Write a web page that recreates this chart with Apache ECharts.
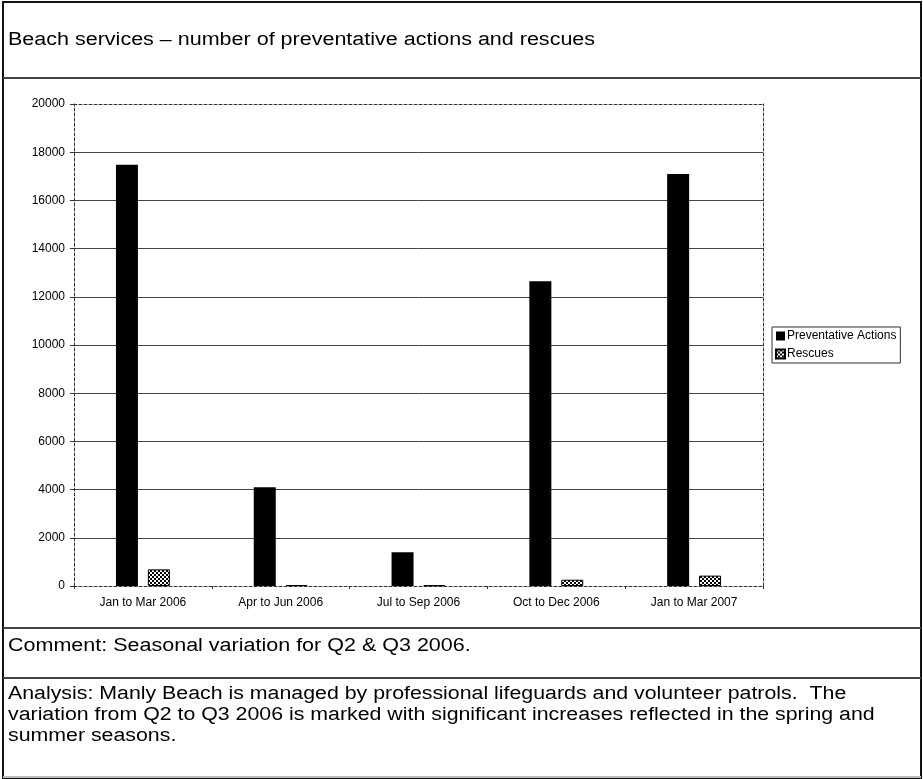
<!DOCTYPE html>
<html>
<head>
<meta charset="utf-8">
<title>Beach services</title>
<script src="https://cdn.jsdelivr.net/npm/echarts@6/dist/echarts.min.js"></script>
<style>
  html, body { margin: 0; padding: 0; background: #ffffff; }
  #chart { width: 923px; height: 779px; }
</style>
</head>
<body>
<div id="chart"></div>
<script>
// Quarterly beach service figures
const categories = ['Jan to Mar 2006', 'Apr to Jun 2006', 'Jul to Sep 2006', 'Oct to Dec 2006', 'Jan to Mar 2007'];
const preventativeActions = [17480, 4100, 1400, 12650, 17100];
const rescues = [690, 40, 30, 260, 430];
const seriesNames = ['Preventative Actions', 'Rescues'];

const titleText = 'Beach services \u2013 number of preventative actions and rescues';
const commentText = 'Comment: Seasonal variation for Q2 & Q3 2006.';
const analysisLines = [
  'Analysis: Manly Beach is managed by professional lifeguards and volunteer patrols.  The',
  'variation from Q2 to Q3 2006 is marked with significant increases reflected in the spring and',
  'summer seasons.'
];

const FONT = '"Liberation Sans", Arial, Helvetica, sans-serif';

// Dotted fill used for the rescues bars
function dotPattern() {
  const c = document.createElement('canvas');
  c.width = 4; c.height = 4;
  const g = c.getContext('2d');
  g.fillStyle = '#ffffff';
  g.fillRect(0, 0, 4, 4);
  g.fillStyle = '#000000';
  g.fillRect(0, 0, 2, 2);
  g.fillRect(2, 2, 2, 2);
  return c;
}
const rescuesFill = { image: dotPattern(), repeat: 'repeat' };

const chart = echarts.init(document.getElementById('chart'), null, { renderer: 'canvas' });

const dashed = { color: '#333', width: 1, type: [3, 2] };

// Text rows of the report table: slightly wide lettering
function textRow(str, y, widen) {
  return {
    type: 'text', silent: true,
    x: 8, y: y, scaleX: widen, scaleY: 1,
    style: { x: 0, y: 0, text: str, font: '18px ' + FONT, fill: '#000', verticalAlign: 'middle', align: 'left' }
  };
}

const graphics = [
  // outer frame and row separators
  { type: 'rect', silent: true, shape: { x: 3, y: 2, width: 918, height: 776 }, style: { fill: 'none', stroke: '#111', lineWidth: 2 } },
  { type: 'line', silent: true, shape: { x1: 3, y1: 777, x2: 921, y2: 777 }, style: { stroke: '#bbb', lineWidth: 2 } },
  { type: 'line', silent: true, shape: { x1: 3, y1: 78, x2: 921, y2: 78 }, style: { stroke: '#444', lineWidth: 2 } },
  { type: 'line', silent: true, shape: { x1: 3, y1: 628, x2: 921, y2: 628 }, style: { stroke: '#444', lineWidth: 2 } },
  { type: 'line', silent: true, shape: { x1: 3, y1: 678, x2: 921, y2: 678 }, style: { stroke: '#444', lineWidth: 2 } },
  textRow(titleText, 40, 1.195),
  textRow(commentText, 646, 1.195)
];
analysisLines.forEach(function (line, i) {
  graphics.push(textRow(line, 694 + i * 21, 1.185));
});

chart.setOption({
  animation: false,
  backgroundColor: '#ffffff',
  textStyle: { fontFamily: FONT },
  grid: { left: 74, right: 160, top: 104, bottom: 193, containLabel: false },
  legend: {
    orient: 'vertical',
    left: 772,
    top: 327,
    data: seriesNames,
    icon: 'rect',
    itemWidth: 9,
    itemHeight: 9,
    itemGap: 6,
    padding: [3, 4, 3, 3],
    borderColor: '#333',
    borderWidth: 1,
    textStyle: { fontSize: 12, color: '#000', padding: [0, 0, 0, -3] }
  },
  xAxis: [
    {
      type: 'category',
      data: categories,
      axisLine: { lineStyle: dashed },
      axisTick: { show: true, length: 3, inside: false, lineStyle: { color: '#333' } },
      axisLabel: { fontSize: 12, color: '#000', margin: 11 },
      splitLine: { show: false }
    },
    {
      type: 'category',
      position: 'top',
      data: categories,
      axisLine: { show: true, onZero: false, lineStyle: dashed },
      axisTick: { show: false },
      axisLabel: { show: false }
    }
  ],
  yAxis: [
    {
      type: 'value',
      min: 0,
      max: 20000,
      interval: 2000,
      axisLine: { show: true, onZero: false, lineStyle: dashed },
      axisTick: { show: true, length: 4, lineStyle: { color: '#333' } },
      axisLabel: { fontSize: 12, color: '#000', margin: 9, formatter: function (v) { return String(v); } },
      splitLine: { show: true, showMinLine: false, showMaxLine: false, lineStyle: { color: '#444', width: 1 } }
    },
    {
      type: 'value',
      position: 'right',
      min: 0,
      max: 20000,
      interval: 2000,
      axisLine: { show: true, onZero: false, lineStyle: dashed },
      axisTick: { show: false },
      axisLabel: { show: false },
      splitLine: { show: false }
    }
  ],
  series: [
    {
      name: seriesNames[0],
      type: 'bar',
      data: preventativeActions,
      barWidth: 22,
      barGap: '45%',
      itemStyle: { color: '#000000' }
    },
    {
      name: seriesNames[1],
      type: 'bar',
      data: rescues,
      barWidth: 22,
      itemStyle: { color: rescuesFill, borderColor: '#000', borderWidth: 1 }
    }
  ],
  graphic: graphics
});
</script>
</body>
</html>
